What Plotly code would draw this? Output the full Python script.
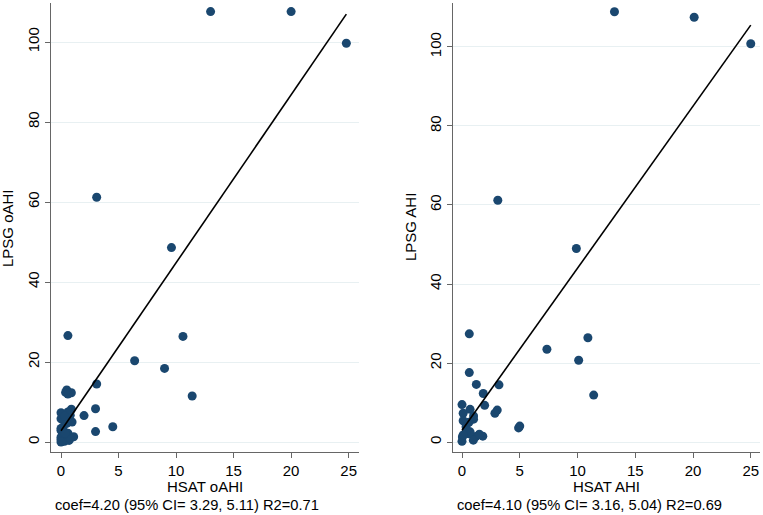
import plotly.graph_objects as go

# ---- Data ----
left_x = [13.0, 20.0, 24.8, 3.1, 9.6, 0.6, 10.6, 6.4, 9.0, 3.1, 11.4, 0.5, 0.9, 0.6, 0.4,
          3.0, 2.0, 4.5, 3.0, 0.0, 0.0, 0.9, 0.8, 0.96, 0.2, 0.0, 0.6, 0.0, 0.7, 1.1,
          0.4, 0.0, 0.3, 0.5, 0.2, 0.0, 0.8, 0.1, 0.35, 0.0, 0.6, 0.3]
left_y = [107.6, 107.6, 99.7, 61.2, 48.6, 26.6, 26.4, 20.3, 18.4, 14.5, 11.5, 13.0, 12.3, 12.0, 12.4,
          8.3, 6.6, 3.8, 2.6, 7.3, 5.8, 8.2, 6.7, 5.0, 3.8, 2.9, 2.2, 0.6, 0.4, 1.3,
          1.7, 1.2, 0.2, 4.7, 5.9, 3.4, 0.9, 0.3, 2.2, 0.0, 7.5, 6.5]

right_x = [13.2, 20.1, 25.0, 3.1, 9.9, 0.63, 10.9, 7.35, 10.1, 0.63, 1.24, 3.2, 11.4, 1.84, 1.96,
           0.0, 3.05, 2.85, 0.7, 0.1, 1.0, 0.1, 1.0, 5.0, 4.9, 1.8, 1.2, 0.6, 0.03, 0.0,
           0.98, 0.7, 0.35, 1.5, 0.4, 0.1, 0.6]
right_y = [108.9, 107.5, 100.8, 61.2, 49.0, 27.4, 26.4, 23.5, 20.7, 17.6, 14.6, 14.5, 11.9, 12.3, 9.3,
           9.5, 8.1, 7.3, 8.3, 7.3, 6.6, 5.4, 5.8, 4.05, 3.6, 1.5, 1.4, 2.1, 1.3, 0.2,
           0.5, 2.6, 3.9, 2.0, 3.0, 1.8, 5.0]

left_coef, left_intercept = 4.20, 2.8
right_coef, right_intercept = 4.10, 3.0

y_ticks = [0, 20, 40, 60, 80, 100]
x_ticks = [0, 5, 10, 15, 20, 25]

left_xtitle, left_ytitle = "HSAT oAHI", "LPSG oAHI"
right_xtitle, right_ytitle = "HSAT AHI", "LPSG AHI"
left_note = "coef=4.20 (95% CI= 3.29, 5.11) R2=0.71"
right_note = "coef=4.10 (95% CI= 3.16, 5.04) R2=0.69"

MARK = "#1a476f"
GRID = "#e8f0f2"
AXIS = "#666666"
FONT = "Liberation Sans, Arial, sans-serif"

fig = go.Figure()

def add_panel(xs, ys, coef, icpt, xa, ya):
    fig.add_trace(go.Scatter(x=xs, y=ys, mode="markers", xaxis=xa, yaxis=ya,
                             marker=dict(color=MARK, size=9, line=dict(width=0)),
                             showlegend=False, hoverinfo="skip"))
    x0, x1 = min(xs), max(xs)
    fig.add_trace(go.Scatter(x=[x0, x1], y=[icpt + coef * x0, icpt + coef * x1],
                             mode="lines", xaxis=xa, yaxis=ya,
                             line=dict(color="black", width=1.6),
                             showlegend=False, hoverinfo="skip"))

add_panel(left_x, left_y, left_coef, left_intercept, "x", "y")
add_panel(right_x, right_y, right_coef, right_intercept, "x2", "y2")

W, H = 763, 515
ml, mr, mt, mb = 51, 3, 3, 63
pw = W - ml - mr
d1 = [0, (359 - 51) / pw]
d2 = [(453 - 51) / pw, 1.0]

xcommon = dict(tickvals=x_ticks, ticks="outside", ticklen=5, tickcolor=AXIS,
               showline=True, linecolor=AXIS, linewidth=1.2, showgrid=False,
               zeroline=False, tickfont=dict(size=15, color="black", family=FONT))
ycommon = dict(tickvals=y_ticks, ticks="outside", ticklen=5, tickcolor=AXIS,
               showline=True, linecolor=AXIS, linewidth=1.2, showgrid=True,
               gridcolor=GRID, gridwidth=1, zeroline=False, tickangle=-90,
               tickfont=dict(size=15, color="black", family=FONT))

fig.update_layout(
    width=W, height=H,
    margin=dict(l=ml, r=mr, t=mt, b=mb),
    paper_bgcolor="white", plot_bgcolor="white",
    font=dict(family=FONT, color="black"),
    xaxis=dict(domain=d1, range=[-0.87, 25.9], anchor="y", **xcommon),
    yaxis=dict(domain=[0, 1], range=[-2.5, 109.75], anchor="x", **ycommon),
    xaxis2=dict(domain=d2, range=[-0.78, 25.8], anchor="y2", **xcommon),
    yaxis2=dict(domain=[0, 1], range=[-2.5, 111.1], anchor="x2", **ycommon),
)

def px_x(p):
    return (p - ml) / pw

def px_y(p):
    return (H - mb - p) / (H - mt - mb)

ann = []
for xt, yt, note, d in [(left_xtitle, left_ytitle, left_note, d1),
                        (right_xtitle, right_ytitle, right_note, d2)]:
    cx = (d[0] + d[1]) / 2
    ann.append(dict(text=xt, xref="paper", yref="paper", x=cx, y=px_y(486),
                    xanchor="center", yanchor="middle", showarrow=False,
                    font=dict(size=15, family=FONT, color="black")))
    ann.append(dict(text=note, xref="paper", yref="paper", x=d[0] + 2 / pw, y=px_y(505),
                    xanchor="left", yanchor="middle", showarrow=False,
                    font=dict(size=14.7, family=FONT, color="black")))
ann.append(dict(text=left_ytitle, xref="paper", yref="paper", x=px_x(7), y=px_y(228),
                xanchor="center", yanchor="middle", textangle=-90, showarrow=False,
                font=dict(size=15, family=FONT, color="black")))
ann.append(dict(text=right_ytitle, xref="paper", yref="paper", x=px_x(410), y=px_y(227),
                xanchor="center", yanchor="middle", textangle=-90, showarrow=False,
                font=dict(size=15, family=FONT, color="black")))
fig.update_layout(annotations=ann)

fig.write_html("out.html", config={"displayModeBar": False},
               post_script="document.body.style.margin='0';document.body.style.overflow='hidden';")
